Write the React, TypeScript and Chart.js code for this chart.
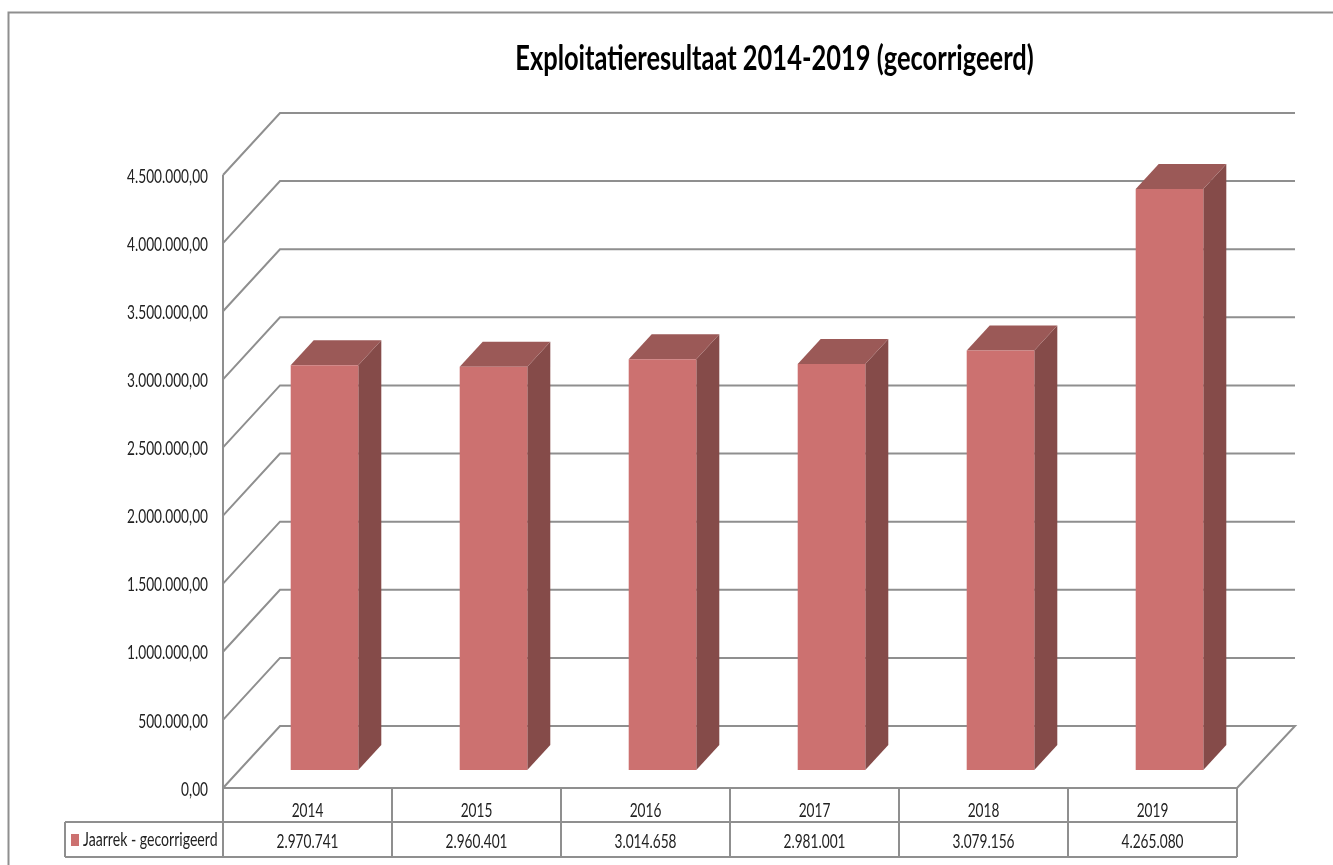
import React, { useEffect, useRef } from "react";
import { Chart, registerables } from "chart.js";

Chart.register(...registerables);

const categories = ["2014", "2015", "2016", "2017", "2018", "2019"];
const seriesName = "Jaarrek - gecorrigeerd";
const values = [2970741, 2960401, 3014658, 2981001, 3079156, 4265080];
const valueLabels = ["2.970.741", "2.960.401", "3.014.658", "2.981.001", "3.079.156", "4.265.080"];
const titleText = "Exploitatieresultaat 2014-2019 (gecorrigeerd)";

const FONT = 'Lato, "Liberation Sans", sans-serif';
const LINE = "#8f8f8f";
const TEXT = "#222222";
const FRONT = "#cc7170";
const SIDE = "#854b49";
const TOP = "#9b5957";
const DX = 57, DY = 62;
const BAR_DX = 17, BAR_DY = 18;
const SIDE_DX = 23, SIDE_DY = 25;
const ROW1 = 822, ROW2 = 857, LEGEND_LEFT = 65;
const TITLE_SHIFT = 156;
const CONDENSE = 0.72, CONDENSE_BOLD = 0.728;

function condenseText(ctx: any) {
  const orig = ctx.fillText.bind(ctx);
  ctx.fillText = (t: string, x: number, y: number) => {
    ctx.save();
    ctx.translate(x, y + 1.5);
    ctx.scale(ctx.font.includes("bold") || ctx.font.includes("700") ? CONDENSE_BOLD : CONDENSE, 1);
    orig(t, 0, 0);
    ctx.restore();
  };
}

const scene = {
  id: "scene3d",
  afterLayout(chart: any) {
    const t = chart.titleBlock;
    if (t) { t.left += TITLE_SHIFT; t.right += TITLE_SHIFT; }
  },
  beforeDraw(chart: any) {
    const { ctx } = chart;
    ctx.save();
    ctx.strokeStyle = LINE;
    ctx.lineWidth = 2;
    ctx.beginPath();
    ctx.moveTo(8.5, 865);
    ctx.lineTo(8.5, 12.5);
    ctx.lineTo(1333, 12.5);
    ctx.stroke();
    ctx.restore();
  },
  beforeDatasetsDraw(chart: any) {
    const { ctx, chartArea: a, scales } = chart;
    const y = scales.y;
    ctx.save();
    ctx.strokeStyle = LINE;
    ctx.lineWidth = 2;
    y.ticks.forEach((tick: any) => {
      const py = y.getPixelForValue(tick.value);
      ctx.beginPath();
      ctx.moveTo(a.left, py);
      ctx.lineTo(a.left + DX, py - DY);
      ctx.lineTo(a.right + DX + 1, py - DY);
      if (tick.value === 0) ctx.lineTo(a.right, py);
      ctx.stroke();
    });
    ctx.beginPath();
    ctx.moveTo(a.left, a.top);
    ctx.lineTo(a.left, ROW2);
    ctx.stroke();
    ctx.restore();
  },
  beforeDatasetDraw(chart: any, args: any) {
    const { ctx } = chart;
    const meta = chart.getDatasetMeta(args.index);
    ctx.save();
    ctx.translate(BAR_DX, -BAR_DY);
    meta.data.forEach((bar: any) => {
      const p = bar.getProps(["x", "y", "base", "width"], true);
      const r = p.x + p.width / 2;
      const l = p.x - p.width / 2;
      ctx.fillStyle = SIDE;
      ctx.beginPath();
      ctx.moveTo(r, p.y);
      ctx.lineTo(r + SIDE_DX, p.y - SIDE_DY);
      ctx.lineTo(r + SIDE_DX, p.base - SIDE_DY);
      ctx.lineTo(r, p.base);
      ctx.closePath();
      ctx.fill();
      ctx.fillStyle = TOP;
      ctx.beginPath();
      ctx.moveTo(l, p.y);
      ctx.lineTo(l + SIDE_DX, p.y - SIDE_DY);
      ctx.lineTo(r + SIDE_DX, p.y - SIDE_DY);
      ctx.lineTo(r, p.y);
      ctx.closePath();
      ctx.fill();
    });
  },
  afterDatasetDraw(chart: any) {
    chart.ctx.restore();
  },
  afterDraw(chart: any) {
    const { ctx, chartArea: a, scales } = chart;
    const x = scales.x;
    const step = a.width / categories.length;
    ctx.save();
    ctx.strokeStyle = LINE;
    ctx.lineWidth = 2;
    ctx.beginPath();
    ctx.moveTo(a.left, a.bottom);
    ctx.lineTo(a.right, a.bottom);
    ctx.moveTo(LEGEND_LEFT, ROW1);
    ctx.lineTo(a.right, ROW1);
    ctx.moveTo(LEGEND_LEFT, ROW2);
    ctx.lineTo(a.right, ROW2);
    ctx.moveTo(LEGEND_LEFT, ROW1);
    ctx.lineTo(LEGEND_LEFT, ROW2);
    for (let i = 0; i <= categories.length; i++) {
      const px = a.left + i * step;
      ctx.moveTo(px, a.bottom);
      ctx.lineTo(px, ROW2);
    }
    ctx.stroke();
    ctx.fillStyle = TEXT;
    ctx.font = `19px ${FONT}`;
    ctx.textAlign = "center";
    ctx.textBaseline = "middle";
    valueLabels.forEach((label, i) => {
      ctx.fillText(label, x.getPixelForValue(i), (ROW1 + ROW2) / 2 + 1);
    });
    ctx.textAlign = "left";
    ctx.font = `19.6px ${FONT}`;
    ctx.fillText(seriesName, 83, (ROW1 + ROW2) / 2 - 1);
    ctx.fillStyle = FRONT;
    ctx.fillRect(71, 834, 8, 12);
    ctx.restore();
  },
};

export default function App() {
  const ref = useRef<HTMLCanvasElement>(null);
  useEffect(() => {
    condenseText(ref.current!.getContext("2d"));
    const chart = new Chart(ref.current!, {
      type: "bar",
      data: {
        labels: categories,
        datasets: [{
          label: seriesName,
          data: values,
          backgroundColor: FRONT,
          borderWidth: 0,
          barPercentage: 0.4,
          categoryPercentage: 1,
          clip: false,
        }],
      },
      options: {
        responsive: false,
        animation: false,
        layout: { padding: { left: 0, right: 96, top: 0, bottom: 0 } },
        plugins: {
          legend: { display: false },
          tooltip: { enabled: false },
          title: {
            display: true,
            text: titleText,
            color: "#000000",
            font: { family: FONT, size: 35, weight: "bold", lineHeight: 1 },
            padding: { top: 40, bottom: 100 },
          },
        },
        scales: {
          x: {
            afterFit: (s: any) => { s.height = 77; },
            grid: { display: false },
            border: { display: false },
            ticks: { color: TEXT, font: { family: FONT, size: 19 }, padding: 2, maxRotation: 0 },
          },
          y: {
            min: 0,
            max: 4500000,
            afterFit: (s: any) => { s.width = 223; },
            grid: { display: false },
            border: { display: false },
            ticks: {
              stepSize: 500000,
              color: TEXT,
              padding: 7,
              font: { family: FONT, size: 19 },
              callback: (v: any) =>
                Number(v).toLocaleString("nl-NL", { minimumFractionDigits: 2, maximumFractionDigits: 2 }),
            },
          },
        },
      },
      plugins: [scene],
    } as any);
    return () => chart.destroy();
  }, []);
  return (
    <div style={{ position: "fixed", left: 0, top: 0, width: 1333, height: 865, background: "#fff" }}>
      <canvas ref={ref} width={1333} height={865} style={{ display: "block" }} />
    </div>
  );
}
